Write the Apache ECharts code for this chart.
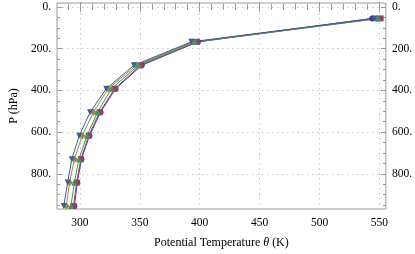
<!DOCTYPE html>
<html><head><meta charset="utf-8">
<script src="https://cdn.jsdelivr.net/npm/echarts@6/dist/echarts.min.js"></script>
<style>html,body{margin:0;padding:0;background:#fff}#c{width:415px;height:254px}</style>
</head><body><div id="c"></div>
<script>
const pressure = [955, 842.5, 730, 617.5, 505, 392.5, 280, 167.5, 55];
const thetaDown = [286.5, 289.8, 293.2, 299.4, 308.5, 322.0, 345.1, 393.0, 546.0];
const thetaDiamond = [288.6, 291.4, 295.4, 301.9, 311.3, 323.6, 347.0, 394.5, 547.5];
const thetaUp = [292.5, 295.4, 299.2, 305.9, 314.7, 326.3, 348.8, 396.0, 549.0];
const thetaSquare = [294.6, 297.3, 300.8, 307.3, 316.4, 329.0, 350.4, 397.5, 551.0];
const thetaCircle = [295.4, 297.8, 301.3, 308.0, 317.2, 329.8, 351.6, 398.5, 544.0];
const xMajor = [300, 350, 400, 450, 500, 550];
const yMajor = [0, 200, 400, 600, 800];

const xMinor = []; for (let v = 290; v <= 550; v += 10) xMinor.push(v);
const yMinor = []; for (let v = 0; v <= 950; v += 50) yMinor.push(v);

const frame = '#9a9a9a';
const font = 'Liberation Serif';
const X = {min: 280.9, max: 555.4};
const Y = {min: -18.8, max: 969};

function xAx(pos, ticks, len, labels, split) {
  return {type: 'value', position: pos, min: X.min, max: X.max,
    axisLine: {show: false},
    axisTick: {show: true, inside: true, length: len, customValues: ticks, lineStyle: {color: frame}},
    axisLabel: labels ? {show: true, customValues: xMajor, color: '#000', fontFamily: font, fontSize: 11.5, margin: 8} : {show: false},
    splitLine: split ? {show: true, lineStyle: {color: '#c8c8c8', type: [1.5, 3.5], width: 1}} : {show: false}};
}
function yAx(pos, ticks, len, labels, split) {
  return {type: 'value', position: pos, inverse: true, min: Y.min, max: Y.max,
    axisLine: {show: false},
    axisTick: {show: true, inside: true, length: len, customValues: ticks, lineStyle: {color: frame}},
    axisLabel: labels ? {show: true, customValues: yMajor, color: '#000', fontFamily: font, fontSize: 11.5, margin: 6, formatter: v => v + '.'} : {show: false},
    splitLine: split ? {show: true, lineStyle: {color: '#c8c8c8', type: [1.5, 3.5], width: 1}} : {show: false}};
}

const xAxes = [xAx('bottom', xMajor, 5, true, true), xAx('bottom', xMinor, 3, false, false),
               xAx('top', xMajor, 5, false, false), xAx('top', xMinor, 3, false, false)];
xAxes[0].name = 'Potential Temperature {i|θ} (K)';
xAxes[0].nameLocation = 'middle';
xAxes[0].nameGap = 28;
xAxes[0].nameTextStyle = {color: '#000', fontFamily: font, fontSize: 12, rich: {i: {fontStyle: 'italic', fontFamily: font, fontSize: 12, color: '#000'}}};

const yAxes = [yAx('left', yMajor, 5, true, true), yAx('left', yMinor, 3, false, false),
               yAx('right', yMajor, 5, true, false), yAx('right', yMinor, 3, false, false)];
yAxes[0].name = 'P (hPa)';
yAxes[0].nameLocation = 'middle';
yAxes[0].nameGap = 32;
yAxes[0].nameRotate = 90;
yAxes[0].nameTextStyle = {color: '#000', fontFamily: font, fontSize: 12};

function mk(name, vals, color, symbol, rot, size) {
  return {type: 'line', name, data: vals.map((v, i) => [v, pressure[i]]),
    xAxisIndex: 0, yAxisIndex: 0, symbol, symbolRotate: rot || 0, symbolSize: size,
    lineStyle: {color, width: 1}, itemStyle: {color}, showSymbol: true, animation: false};
}

const chart = echarts.init(document.getElementById('c'), null, {renderer: 'canvas'});
chart.setOption({
  animation: false,
  grid: {left: 48, right: 26, top: 3, bottom: 41, show: true, borderColor: frame, borderWidth: 1, backgroundColor: 'transparent'},
  xAxis: xAxes,
  yAxis: yAxes,
  series: [
    mk('circle', thetaCircle, '#3F3D99', 'circle', 0, 6),
    mk('square', thetaSquare, '#993D71', 'rect', 0, 6),
    mk('diamond', thetaDiamond, '#998B3D', 'diamond', 0, 7),
    mk('up', thetaUp, '#3D9956', 'triangle', 0, 6),
    mk('down', thetaDown, '#3D5A99', 'triangle', 180, 6)
  ]
});
</script></body></html>
